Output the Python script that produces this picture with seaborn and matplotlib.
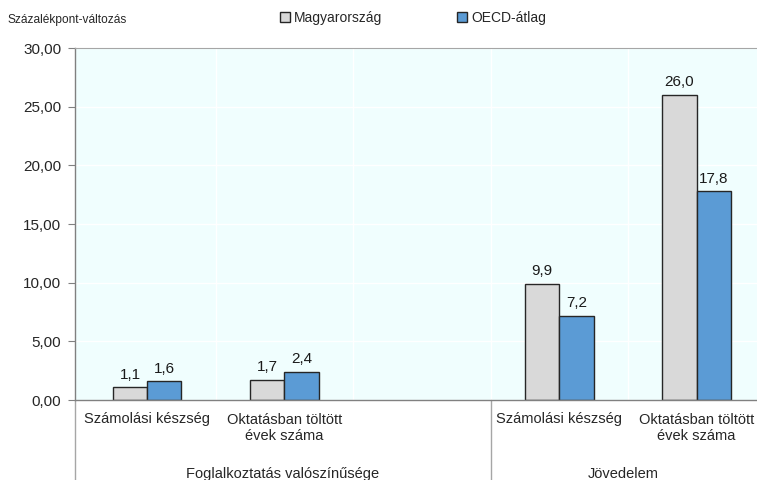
import pandas as pd
import seaborn as sns
import matplotlib.pyplot as plt
from matplotlib.ticker import FuncFormatter

# data
groups = ["Foglalkoztatás valószínűsége", "Foglalkoztatás valószínűsége", "", "Jövedelem", "Jövedelem"]
labels = ["Számolási készség", "Oktatásban töltött\névek száma", "", "Számolási készség", "Oktatásban töltött\névek száma"]
series = ["Magyarország", "OECD-átlag"]
hungary = [1.1, 1.7, None, 9.9, 26.0]
oecd = [1.6, 2.4, None, 7.2, 17.8]
yticks = [0, 5, 10, 15, 20, 25, 30]

keys = [f"{g}|{l}|{i}" for i, (g, l) in enumerate(zip(groups, labels))]
rows = []
for k, h, o in zip(keys, hungary, oecd):
    if h is not None:
        rows.append({"kat": k, "sorozat": series[0], "ertek": h})
        rows.append({"kat": k, "sorozat": series[1], "ertek": o})
df = pd.DataFrame(rows)

sns.set_style("white")
plt.rcParams["font.family"] = ["Liberation Sans", "DejaVu Sans"]

fig = plt.figure(figsize=(7.57, 4.80), dpi=100)
ax = fig.add_axes([75 / 757, 80 / 480, 1 - 75 / 757, 352 / 480])
ax.set_facecolor("#F0FEFE")

sns.barplot(data=df, x="kat", y="ertek", hue="sorozat", order=keys, hue_order=series,
            palette=["#D9D9D9", "#5B9BD5"], width=0.5, edgecolor="#262626",
            linewidth=1.0, saturation=1, ax=ax, legend=True)

for cont in ax.containers:
    vals = cont.datavalues
    ax.bar_label(cont, labels=[f"{v:.1f}".replace(".", ",") for v in vals],
                 padding=4, fontsize=11, color="#1a1a1a")

ax.set_xlim(-0.525, 4.44)
ax.set_ylim(0, 30)
ax.set_yticks(yticks)
ax.yaxis.set_major_formatter(FuncFormatter(lambda v, p: f"{v:.2f}".replace(".", ",")))
ax.tick_params(axis="y", length=5, width=0.8, color="#808080", labelsize=11, pad=5, left=True)
ax.set_xticks(range(len(labels)))
ax.set_xticklabels(labels, fontsize=10.5, linespacing=1.25)
ax.tick_params(axis="x", length=0, pad=9)
ax.set_xticks([0.5, 1.5, 2.5, 3.5], minor=True)
ax.tick_params(axis="x", which="minor", length=0)
ax.grid(True, which="major", axis="y", color="white", linewidth=1)
ax.grid(True, which="minor", axis="x", color="white", linewidth=1)
ax.set_axisbelow(True)
ax.set_xlabel("")
ax.set_ylabel("")

for s in ["left", "bottom"]:
    ax.spines[s].set_color("#808080")
    ax.spines[s].set_linewidth(1.0)
ax.spines["top"].set_color("#A6A6A6")
ax.spines["right"].set_visible(False)

# group dividers and group labels under the axis
trans = ax.get_xaxis_transform()
for xd in [-0.525, 2.5]:
    ax.plot([xd, xd], [0, -0.25], transform=trans, color="#A6A6A6", lw=1.0, clip_on=False)
ax.text((-0.525 + 2.5) / 2, -0.21, groups[0], transform=trans, ha="center", va="center", fontsize=10.5)
ax.text((2.5 + 4.44) / 2, -0.21, groups[3], transform=trans, ha="center", va="center", fontsize=10.5)

fig.text(8 / 757, 1 - 20 / 480, "Százalékpont-változás", fontsize=8.6, va="center", ha="left")

handles, leg_labels = ax.get_legend_handles_labels()
ax.get_legend().remove()
fig.legend(handles, leg_labels, ncol=2, loc="center", bbox_to_anchor=(413 / 757, 1 - 18 / 480),
           frameon=False, fontsize=10, handlelength=0.7, handleheight=0.7, handletextpad=0.3,
           columnspacing=5.4, borderpad=0)

fig.savefig("out.png", dpi=100)
